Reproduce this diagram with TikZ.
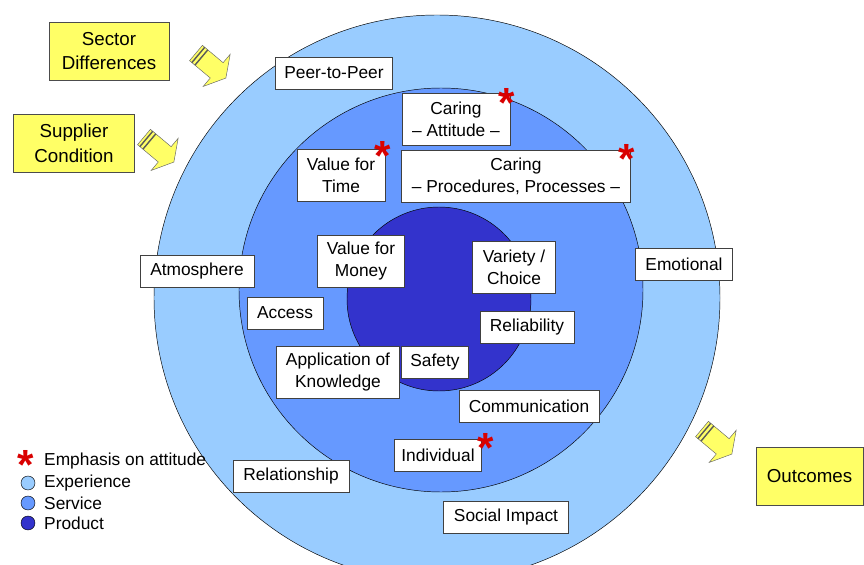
\documentclass[tikz,border=0pt]{standalone}
\usepackage{fontspec}
\setmainfont{Liberation Sans}
\definecolor{expblue}{HTML}{99CCFF}
\definecolor{srvblue}{HTML}{6699FF}
\definecolor{prdblue}{HTML}{3333CC}
\definecolor{noteyellow}{HTML}{FFFF66}
\tikzset{
  box/.style={draw=black!75, fill=white, align=center, inner xsep=0.2cm,
    font=\fontsize{14.8}{19}\selectfont, minimum height=0.96cm},
  twoline/.style={box, minimum height=1.56cm},
  ybox/.style={draw=black!70, fill=noteyellow, align=center,
    font=\fontsize{16}{21}\selectfont, minimum height=1.74cm},
  emph/.style={text=red!85!black, font=\bfseries\fontsize{36}{36}\selectfont,
    inner sep=0pt, anchor=north},
  legend/.style={anchor=west, inner sep=0pt, font=\fontsize{14.8}{16}\selectfont},
  pics/fatarrow/.style={code={
    \draw[black!60, fill=noteyellow] (0,-10) -- (27,-10) -- (27,-21) -- (39,0)
      -- (27,21) -- (27,10) -- (0,10) -- cycle;
    \draw[black!65, line width=1.2pt] (3,-10) -- (3,10) (7,-10) -- (7,10);
  }},
}
\begin{document}
\begin{tikzpicture}[x=0.03cm, y=-0.03cm]
  \useasboundingbox (0,0) rectangle (864,565);
  % rings
  \draw[fill=expblue] (437,298) circle (283);
  \draw[fill=srvblue] (441,290) circle (202);
  \draw[fill=prdblue] (439,299) circle (92);
  % yellow boxes and arrows
  \node[ybox, minimum width=3.6cm] (sector) at (109,51) {Sector\\Differences};
  \node[ybox, minimum width=3.63cm] (supplier) at (74,143) {Supplier\\Condition};
  \node[ybox, minimum width=3.2cm, anchor=west] (outcomes) at (756,476) {Outcomes};
  \pic[rotate=-40] at (196,53) {fatarrow};
  \pic[rotate=-40] at (144,137) {fatarrow};
  \pic[rotate=-40] at (702,429) {fatarrow};
  % experience
  \node[box, minimum width=3.51cm] (peer) at (334,73) {Peer-to-Peer};
  \node[box, minimum width=3.42cm] (atmos) at (197,271) {Atmosphere};
  \node[box, minimum width=2.91cm] (emot) at (684,264) {Emotional};
  \node[box, minimum width=3.48cm] (relat) at (291,476) {Relationship};
  \node[box, minimum width=3.75cm] (social) at (506,517) {Social Impact};
  % service
  \node[twoline, minimum width=3.24cm] (cattit) at (456,119) {Caring\\ -- Attitude --};
  \node[twoline, minimum width=2.64cm] (vtime) at (341,175) {Value for\\Time};
  \node[twoline, minimum width=6.87cm] (cproc) at (516,176) {Caring\\ -- Procedures, Processes --};
  \node[box, minimum width=2.28cm] (access) at (285,313) {Access};
  \node[box, minimum width=2.82cm] (reliab) at (527,327) {Reliability};
  \node[twoline, minimum width=3.69cm] (appl) at (338,372) {Application of\\Knowledge};
  \node[box, minimum width=4.2cm] (comm) at (529,406) {Communication};
  \node[box, minimum width=2.61cm] (indiv) at (438,455) {Individual};
  % product
  \node[twoline, minimum width=2.61cm] (vmoney) at (361,261) {Value for\\Money};
  \node[twoline, minimum width=2.49cm] (variety) at (514,267) {Variety /\\Choice};
  \node[box, minimum width=2.01cm] (safety) at (435,362) {Safety};
  % attitude marks
  \node[emph] (s1) at (507,88) {*};
  \node[emph] (s2) at (383,141) {*};
  \node[emph] (s3) at (627,144) {*};
  \node[emph] (s4) at (486,433) {*};
  % legend
  \node[emph] (ls) at (26,450) {*};
  \node[legend] (l1) at (44,461) {Emphasis on attitude};
  \draw[fill=expblue] (28,483) circle (7);
  \node[legend] (l2) at (44,483) {Experience};
  \draw[fill=srvblue] (28,503) circle (7);
  \node[legend] (l3) at (44,503) {Service};
  \draw[fill=prdblue] (28,523) circle (7);
  \node[legend] (l4) at (44,523) {Product};
\end{tikzpicture}
\end{document}
